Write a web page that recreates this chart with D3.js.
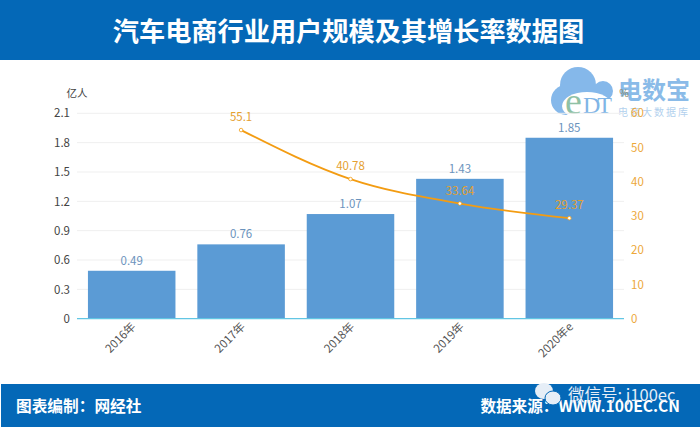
<!DOCTYPE html>
<html>
<head>
<meta charset="utf-8">
<script src="https://cdn.jsdelivr.net/npm/d3@7"></script>
<style>
body { margin: 0; background: #fff; }
svg { display: block; }
text { font-family: "Noto Sans CJK SC", "Noto Sans", sans-serif; }
</style>
</head>
<body>
<div class="container"></div>
<script>
const categories = ["2016年", "2017年", "2018年", "2019年", "2020年e"];
const users = [0.49, 0.76, 1.07, 1.43, 1.85];
const growth = [null, 55.1, 40.78, 33.64, 29.37];
const leftTicks = [0, 0.3, 0.6, 0.9, 1.2, 1.5, 1.8, 2.1];
const rightTicks = [0, 10, 20, 30, 40, 50, 60];

const width = 700, height = 427;
const margin = { top: 113.3, right: 76, bottom: 108.3, left: 77 };
const innerWidth = width - margin.left - margin.right,
    innerHeight = height - margin.top - margin.bottom;

const blue = "#0468b7", barBlue = "#5b9bd5", orange = "#f39c12";

const svg = d3.select(".container")
    .append("svg")
    .attr("width", width)
    .attr("height", height);

// header and footer bands
svg.append("rect").attr("x", 0).attr("y", 0).attr("width", width).attr("height", 60).attr("fill", blue);
svg.append("rect").attr("x", 1).attr("y", 384).attr("width", width - 1).attr("height", 43).attr("fill", blue);

svg.append("text")
    .attr("x", 348.5).attr("y", 41)
    .attr("text-anchor", "middle")
    .attr("fill", "#fff")
    .style("font-size", "26.2px")
    .style("font-weight", 700)
    .text("汽车电商行业用户规模及其增长率数据图");

svg.append("text")
    .attr("x", 16).attr("y", 412)
    .attr("fill", "#fff")
    .style("font-size", "15.7px")
    .style("font-weight", 700)
    .text("图表编制：网经社");

svg.append("text")
    .attr("x", 680).attr("y", 412)
    .attr("text-anchor", "end")
    .attr("fill", "#fff")
    .style("font-size", "15.6px")
    .style("font-weight", 700)
    .text("数据来源：WWW.100EC.CN");

// wechat watermark
const wechat = svg.append("g").attr("fill", "#e6eef7");
wechat.append("ellipse").attr("cx", 544).attr("cy", 391).attr("rx", 9).attr("ry", 8);
wechat.append("ellipse").attr("cx", 553).attr("cy", 398).attr("rx", 8).attr("ry", 7).attr("stroke", blue).attr("stroke-width", 1);
svg.append("text")
    .attr("x", 568).attr("y", 401)
    .attr("fill", "#e6eef7")
    .style("font-size", "16.5px")
    .text("微信号: j100ec");

// logo, sits under the chart
const logo = svg.append("g").attr("fill", "#85b8ea");
[[566, 100, 15], [578, 85, 18], [603, 91, 10]].forEach(c => {
    logo.append("circle").attr("cx", c[0]).attr("cy", c[1]).attr("r", c[2]);
});
logo.append("rect").attr("x", 566).attr("y", 85).attr("width", 38).attr("height", 16);
svg.append("ellipse").attr("cx", 587).attr("cy", 106).attr("rx", 25).attr("ry", 14).attr("fill", "#fff");
svg.append("text")
    .attr("x", 565).attr("y", 114)
    .attr("fill", "#8fc1a5")
    .style("font-family", "Liberation Serif")
    .style("font-size", "38px")
    .text("e");
svg.append("text")
    .attr("x", 583).attr("y", 113)
    .attr("fill", "#7fb5e6")
    .style("font-family", "Liberation Serif")
    .style("font-size", "24px")
    .attr("textLength", 29)
    .text("DT");
svg.append("text")
    .attr("x", 618).attr("y", 99)
    .attr("fill", "#8abbe8")
    .style("font-size", "24px")
    .style("font-weight", 700)
    .attr("textLength", 72)
    .text("电数宝");
svg.append("text")
    .attr("x", 618).attr("y", 116)
    .attr("fill", "#b3d1ee")
    .style("font-size", "10px")
    .attr("textLength", 70)
    .text("电商大数据库");

const chart = svg.append("g")
    .attr("transform", `translate(${margin.left}, ${margin.top})`);

// SCALES
const xScale = d3.scaleBand()
    .domain(categories)
    .range([0, innerWidth])
    .paddingInner(0.2)
    .paddingOuter(0.1);

const yLeft = d3.scaleLinear().domain([0, 2.1]).range([innerHeight, 0]);
const yRight = d3.scaleLinear().domain([0, 60]).range([innerHeight, 0]);

// grid lines
chart.append("g")
    .selectAll("line")
    .data(leftTicks.slice(1))
    .enter()
    .append("line")
    .attr("x1", 0)
    .attr("x2", innerWidth)
    .attr("y1", d => yLeft(d))
    .attr("y2", d => yLeft(d))
    .attr("stroke", "#efefef");

// AXES
const leftAxis = chart.append("g")
    .call(d3.axisLeft(yLeft).tickValues(leftTicks).tickSize(0).tickPadding(7).tickFormat(d => d));
leftAxis.select(".domain").remove();
leftAxis.selectAll("text")
    .attr("fill", "#444")
    .style("font-family", '"Noto Sans CJK SC"')
    .style("font-size", "11.5px");

const rightAxis = chart.append("g")
    .attr("transform", `translate(${innerWidth}, 0)`)
    .call(d3.axisRight(yRight).tickValues(rightTicks).tickSize(0).tickPadding(7));
rightAxis.select(".domain").remove();
rightAxis.selectAll("text")
    .attr("fill", "#eda83a")
    .style("font-family", '"Noto Sans CJK SC"')
    .style("font-size", "11.5px");

svg.append("text")
    .attr("x", 77).attr("y", 97)
    .attr("text-anchor", "middle")
    .attr("fill", "#444")
    .style("font-size", "10.5px")
    .text("亿人");

svg.append("text")
    .attr("x", 624).attr("y", 97)
    .attr("text-anchor", "middle")
    .attr("fill", "#8a8a6a")
    .style("font-size", "10.5px")
    .text("%");

// BARS
chart.selectAll("rect.bar")
    .data(users)
    .enter()
    .append("rect")
    .attr("class", "bar")
    .attr("x", (d, i) => xScale(categories[i]))
    .attr("width", xScale.bandwidth())
    .attr("y", d => yLeft(d))
    .attr("height", d => innerHeight - yLeft(d))
    .attr("fill", barBlue);

chart.selectAll("text.barLabel")
    .data(users)
    .enter()
    .append("text")
    .attr("class", "barLabel")
    .attr("x", (d, i) => xScale(categories[i]) + xScale.bandwidth() / 2)
    .attr("y", d => yLeft(d) - 6)
    .attr("text-anchor", "middle")
    .attr("fill", "#6b93bd")
    .style("font-size", "11.5px")
    .text(d => d.toFixed(2));

// baseline
chart.append("line")
    .attr("x1", 0)
    .attr("x2", innerWidth)
    .attr("y1", innerHeight)
    .attr("y2", innerHeight)
    .attr("stroke", "#62c6e4")
    .attr("stroke-width", 1.2);

// category labels, rotated
chart.selectAll("text.cat")
    .data(categories)
    .enter()
    .append("text")
    .attr("class", "cat")
    .attr("text-anchor", "end")
    .attr("transform", d => `translate(${xScale(d) + xScale.bandwidth() / 2 - 1}, ${innerHeight + 3}) rotate(-45)`)
    .attr("dy", "0.7em")
    .attr("fill", "#555")
    .style("font-size", "11.5px")
    .text(d => d);

// LINE
const lineIdx = d3.range(categories.length).filter(i => growth[i] !== null);
const line = d3.line()
    .x(i => xScale(categories[i]) + xScale.bandwidth() / 2)
    .y(i => yRight(growth[i]))
    .curve(d3.curveMonotoneX);

chart.append("path")
    .attr("d", line(lineIdx))
    .attr("fill", "none")
    .attr("stroke", orange)
    .attr("stroke-width", 1.8);

chart.selectAll("circle.dot")
    .data(lineIdx)
    .enter()
    .append("circle")
    .attr("class", "dot")
    .attr("cx", i => xScale(categories[i]) + xScale.bandwidth() / 2)
    .attr("cy", i => yRight(growth[i]))
    .attr("r", 1.8)
    .attr("fill", "#fff")
    .attr("stroke", orange)
    .attr("stroke-width", 0.8);

chart.selectAll("text.lineLabel")
    .data(lineIdx)
    .enter()
    .append("text")
    .attr("class", "lineLabel")
    .attr("x", i => xScale(categories[i]) + xScale.bandwidth() / 2)
    .attr("y", i => yRight(growth[i]) - 9)
    .attr("text-anchor", "middle")
    .attr("fill", "#e5a02f")
    .style("font-size", "11.5px")
    .text(i => growth[i]);
</script>
</body>
</html>
